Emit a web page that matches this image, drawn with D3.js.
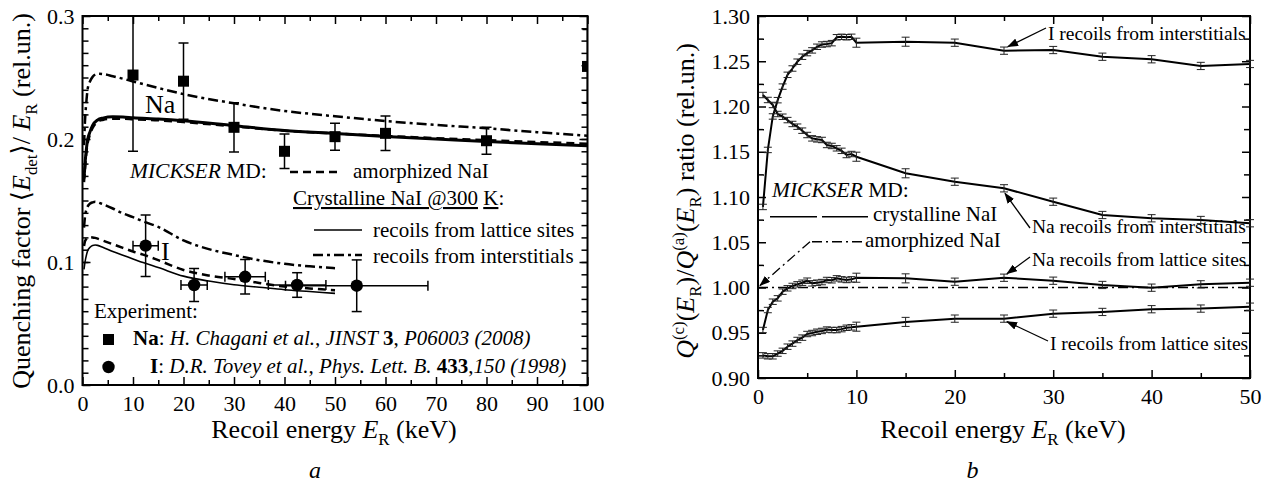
<!DOCTYPE html>
<html>
<head>
<meta charset="utf-8">
<script src="https://cdn.jsdelivr.net/npm/d3@7"></script>
<style>
body { margin: 0; background: #fff; }
svg text { font-family: "Liberation Serif", "Times New Roman", "DejaVu Serif", serif; fill: #000; }
</style>
</head>
<body>
<svg id="chart" width="1273" height="484"></svg>
<script>
// ---- panel a: quenching factor vs recoil energy ----
var naCurveX = [0.3,0.5,0.8,1,1.5,2,3,4,6,8,10,15,20,30,40,50,60,70,80,90,100]
var naLattice = [0.168,0.180,0.193,0.199,0.206,0.211,0.2155,0.217,0.218,0.2178,0.2172,0.2162,0.2148,0.2108,0.207,0.2045,0.202,0.200,0.198,0.1962,0.1946]
var naAmorph = [0.165,0.176,0.190,0.196,0.204,0.209,0.214,0.2155,0.2165,0.2165,0.216,0.2152,0.2138,0.2102,0.2068,0.2045,0.2025,0.2007,0.199,0.1975,0.1962]
var naInter = [0.195,0.215,0.232,0.240,0.247,0.2505,0.253,0.2528,0.251,0.249,0.2468,0.2415,0.2365,0.229,0.2228,0.2185,0.2146,0.2115,0.2087,0.2055,0.2027]

var iCurveX = [0.3,0.5,0.8,1,1.5,2,2.5,3,4,6,8,10,12,15,20,25,30,35,40,45,50]
var iLattice = [0.094,0.100,0.106,0.109,0.112,0.1135,0.1138,0.1135,0.112,0.1085,0.1055,0.1025,0.0995,0.0955,0.0885,0.0845,0.0815,0.0795,0.0775,0.076,0.0745]
var iAmorph = [0.113,0.117,0.119,0.1198,0.1202,0.120,0.1196,0.119,0.1175,0.1145,0.1115,0.1085,0.106,0.1015,0.0935,0.089,0.0862,0.083,0.080,0.0785,0.077]
var iInter = [0.128,0.137,0.143,0.145,0.1475,0.1485,0.149,0.1485,0.147,0.1435,0.1395,0.1365,0.133,0.1285,0.1175,0.1105,0.1057,0.1015,0.0985,0.0965,0.095]

// experiment
var naExpX = [10,20,30,40,50,60,80,100]
var naExpY = [0.252,0.247,0.2095,0.190,0.2019,0.2046,0.1986,0.259]
var naExpErr = [0.062,0.031,0.020,0.014,0.011,0.014,0.011,0.030]
var iExpX = [12.5,22.1,32.2,42.5,54.3]
var iExpY = [0.1133,0.0813,0.088,0.0813,0.0807]
var iExpErrY = [0.025,0.0135,0.014,0.010,0.021]
var iExpErrX = [2.5,2.6,4.0,5.7,14.1]

// ---- panel b: Q(c)/Q(a) ratio ----
var ratioX = [0.5,1,1.5,2,2.5,3,3.5,4,4.5,5,5.5,6,6.5,7,7.5,8,8.5,9,9.5,10,15,20,25,30,35,40,45,50]
var iInterRatio = [1.089,1.152,1.189,1.207,1.222,1.235,1.242,1.2495,1.255,1.259,1.262,1.266,1.2685,1.269,1.270,1.2765,1.277,1.2765,1.277,1.2705,1.2716,1.2705,1.2617,1.2624,1.255,1.2522,1.2448,1.247]
var naInterRatio = [1.2127,1.2072,1.2017,1.1917,1.1887,1.185,1.1807,1.1777,1.1733,1.1685,1.1648,1.1637,1.163,1.1575,1.1564,1.1538,1.151,1.1464,1.1475,1.1445,1.1262,1.1169,1.1096,1.0948,1.0801,1.0765,1.0746,1.071]
var naLatRatio = [0.953,0.9751,0.9843,0.988,0.9954,0.9991,1.0017,1.0035,1.0053,1.0075,1.0046,1.0053,1.006,1.0083,1.008,1.0101,1.009,1.0083,1.009,1.0108,1.0101,1.0064,1.0108,1.0075,1.0028,0.9998,1.0035,1.0053]
var iLatRatio = [0.925,0.924,0.924,0.927,0.930,0.9346,0.938,0.942,0.9446,0.9486,0.9497,0.9511,0.952,0.9535,0.953,0.953,0.954,0.9555,0.956,0.9567,0.962,0.9656,0.9656,0.9711,0.973,0.976,0.9767,0.9788]
var ratioErr = [0.003,0.003,0.003,0.003,0.003,0.003,0.003,0.003,0.003,0.003,0.003,0.003,0.003,0.003,0.003,0.003,0.003,0.003,0.003,0.005,0.005,0.004,0.004,0.004,0.004,0.004,0.004,0.004]
var amorphRefX = [0, 50]
var amorphRefY = [1.0, 1.0]

var aXTicks = [0,10,20,30,40,50,60,70,80,90,100]
var aXMinor = [5,15,25,35,45,55,65,75,85,95]
var aYTicks = [0,0.1,0.2,0.3]
var bXTicks = [0,10,20,30,40,50]
var bXMinor = [5,15,25,35,45]
var bYTicks = [0.90,0.95,1.00,1.05,1.10,1.15,1.20,1.25,1.30]
var bYMinor = [0.925,0.975,1.025,1.075,1.125,1.175,1.225,1.275]

var FF = '"Liberation Serif", "Times New Roman", serif'
var svg = d3.select("#chart")

svg.append("defs").append("marker")
  .attr("id", "arr")
  .attr("markerUnits", "userSpaceOnUse")
  .attr("markerWidth", 11).attr("markerHeight", 8)
  .attr("refX", 10).attr("refY", 4)
  .attr("orient", "auto")
  .append("path").attr("d", "M0,0 L11,4 L0,8 Z").attr("fill", "#000")

var xa = d3.scaleLinear().domain([0, 100]).range([82.5, 587.5])
var ya = d3.scaleLinear().domain([0, 0.3]).range([385, 16])
var xb = d3.scaleLinear().domain([0, 50]).range([758, 1250])
var yb = d3.scaleLinear().domain([0.9, 1.3]).range([378, 16])

function fixAxis(g) {
  g.attr("font-size", 22).attr("font-family", FF)
  g.select(".domain").remove()
  g.selectAll("line").attr("stroke", "#000").attr("stroke-width", 1.5)
}

function frame(x, y, xt, xm, yt, ym, xfmt, yfmt) {
  var x0 = x.range()[0], x1 = x.range()[1]
  var y0 = y.range()[0], y1 = y.range()[1]
  var g = svg.append("g")
  g.append("g").attr("transform", "translate(0," + y0 + ")")
    .call(d3.axisBottom(x).tickValues(xt).tickSize(-8).tickPadding(10).tickFormat(xfmt)).call(fixAxis)
  g.append("g").attr("transform", "translate(0," + y0 + ")")
    .call(d3.axisBottom(x).tickValues(xm).tickSize(-5).tickFormat("")).call(fixAxis)
  g.append("g").attr("transform", "translate(0," + y1 + ")")
    .call(d3.axisTop(x).tickValues(xt).tickSize(-8).tickFormat("")).call(fixAxis)
  g.append("g").attr("transform", "translate(0," + y1 + ")")
    .call(d3.axisTop(x).tickValues(xm).tickSize(-5).tickFormat("")).call(fixAxis)
  g.append("g").attr("transform", "translate(" + x0 + ",0)")
    .call(d3.axisLeft(y).tickValues(yt).tickSize(-8).tickPadding(8).tickFormat(yfmt)).call(fixAxis)
  g.append("g").attr("transform", "translate(" + x0 + ",0)")
    .call(d3.axisLeft(y).tickValues(ym).tickSize(-6).tickFormat("")).call(fixAxis)
  g.append("g").attr("transform", "translate(" + x1 + ",0)")
    .call(d3.axisRight(y).tickValues(yt).tickSize(-8).tickFormat("")).call(fixAxis)
  g.append("g").attr("transform", "translate(" + x1 + ",0)")
    .call(d3.axisRight(y).tickValues(ym).tickSize(-6).tickFormat("")).call(fixAxis)
  g.append("rect")
    .attr("x", x0).attr("y", y1).attr("width", x1 - x0).attr("height", y0 - y1)
    .attr("fill", "none").attr("stroke", "#000").attr("stroke-width", 2)
}

// text with italic / bold / underline / sub / sup pieces
function rich(sel, size, parts) {
  var cur = 0
  parts.forEach(function(p) {
    var st = p[1] || ""
    var fs = size, off = 0
    if (st.indexOf("_") > -1) { fs = size * 0.65; off = size * 0.28 }
    if (st.indexOf("^") > -1) { fs = size * 0.65; off = -size * 0.4 }
    var t = sel.append("tspan").text(p[0]).attr("font-size", fs)
    if (off != cur) t.attr("dy", off - cur)
    cur = off
    if (st.indexOf("i") > -1) t.attr("font-style", "italic")
    if (st.indexOf("b") > -1) t.attr("font-weight", "bold")
    if (st.indexOf("u") > -1) t.attr("text-decoration", "underline")
  })
  return sel
}

function label(x, y, size, parts, anchor) {
  var t = svg.append("text").attr("x", x).attr("y", y).attr("font-size", size)
    .attr("text-anchor", anchor || "start")
  return rich(t, size, parts)
}

// ================= panel a =================
frame(xa, ya, aXTicks, aXMinor, aYTicks, d3.range(0.01, 0.3, 0.01),
  d3.format("d"), d3.format(".1f"))

svg.append("clipPath").attr("id", "clipA").append("rect")
  .attr("x", 82.5).attr("y", 16).attr("width", 505).attr("height", 369)

var pa = svg.append("g").attr("clip-path", "url(#clipA)")

function curve(g, xs, ys, x, y, w, dash, kind) {
  var line = d3.line()
    .x(function(d) { return x(d[0]) })
    .y(function(d) { return y(d[1]) })
    .curve(kind || d3.curveMonotoneX)
  g.append("path")
    .attr("d", line(d3.zip(xs, ys)))
    .attr("fill", "none").attr("stroke", "#000")
    .attr("stroke-width", w)
    .attr("stroke-dasharray", dash)
}

var DASH = "8,5", DASHDOT = "10,4,3,4"
curve(pa, naCurveX, naAmorph, xa, ya, 2.5, DASH)
curve(pa, naCurveX, naLattice, xa, ya, 3, null)
curve(pa, naCurveX, naInter, xa, ya, 2.5, DASHDOT)
curve(pa, iCurveX, iAmorph, xa, ya, 2.5, DASH)
curve(pa, iCurveX, iLattice, xa, ya, 1.6, null)
curve(pa, iCurveX, iInter, xa, ya, 2.5, DASHDOT)

// Na points with y error bars
naExpX.forEach(function(v, i) {
  var cx = xa(v), cy = ya(naExpY[i])
  var t = ya(naExpY[i] + naExpErr[i]), b = ya(naExpY[i] - naExpErr[i])
  pa.append("line").attr("x1", cx).attr("x2", cx).attr("y1", t).attr("y2", b)
    .attr("stroke", "#000").attr("stroke-width", 1.5)
  pa.append("line").attr("x1", cx - 5).attr("x2", cx + 5).attr("y1", t).attr("y2", t)
    .attr("stroke", "#000").attr("stroke-width", 1.5)
  pa.append("line").attr("x1", cx - 5).attr("x2", cx + 5).attr("y1", b).attr("y2", b)
    .attr("stroke", "#000").attr("stroke-width", 1.5)
  pa.append("rect").attr("x", cx - 5.5).attr("y", cy - 5.5).attr("width", 11).attr("height", 11)
    .attr("fill", "#000")
})

// I points with x and y error bars
iExpX.forEach(function(v, i) {
  var cx = xa(v), cy = ya(iExpY[i])
  var t = ya(iExpY[i] + iExpErrY[i]), b = ya(iExpY[i] - iExpErrY[i])
  var l = xa(v - iExpErrX[i]), r = xa(v + iExpErrX[i])
  var segs = [[cx, t, cx, b], [cx - 5, t, cx + 5, t], [cx - 5, b, cx + 5, b],
    [l, cy, r, cy], [l, cy - 5, l, cy + 5], [r, cy - 5, r, cy + 5]]
  segs.forEach(function(s) {
    pa.append("line").attr("x1", s[0]).attr("y1", s[1]).attr("x2", s[2]).attr("y2", s[3])
      .attr("stroke", "#000").attr("stroke-width", 1.5)
  })
  pa.append("circle").attr("cx", cx).attr("cy", cy).attr("r", 6.2).attr("fill", "#000")
})

// panel a labels / legend
label(145, 113, 26, [["Na"]])
label(161, 260, 26, [["I"]])
label(130, 178, 21.5, [["MICKSER", "i"], [" MD:"]])
svg.append("line").attr("x1", 290).attr("x2", 342).attr("y1", 172).attr("y2", 172)
  .attr("stroke", "#000").attr("stroke-width", 2.5).attr("stroke-dasharray", DASH)
label(353, 178, 21, [["amorphized NaI"]])
label(293, 205, 21, [["Crystalline NaI @300", "u"], [" "], ["K", "u"], [":"]])
svg.append("line").attr("x1", 314).attr("x2", 362).attr("y1", 230).attr("y2", 230)
  .attr("stroke", "#000").attr("stroke-width", 1.6)
label(373, 237, 21, [["recoils from lattice sites"]])
svg.append("line").attr("x1", 313).attr("x2", 362).attr("y1", 255).attr("y2", 255)
  .attr("stroke", "#000").attr("stroke-width", 2.5).attr("stroke-dasharray", DASHDOT)
label(373, 263, 21, [["recoils from interstitials"]])

label(94, 318, 21, [["Experiment:"]])
svg.append("rect").attr("x", 103).attr("y", 334).attr("width", 11).attr("height", 11).attr("fill", "#000")
label(133, 345, 21, [["Na", "b"], [": "], ["H. Chagani et al., JINST ", "i"], ["3", "b"], [", "], ["P06003 (2008)", "i"]])
svg.append("circle").attr("cx", 108.5).attr("cy", 367).attr("r", 6.2).attr("fill", "#000")
label(150, 373, 21, [["I", "b"], [": "], ["D.R. Tovey et al., Phys. Lett. B. ", "i"], ["433", "b"], [","], ["150 (1998)", "i"]])

// axis titles a
var ta = svg.append("text").attr("transform", "translate(30,201) rotate(-90)")
  .attr("text-anchor", "middle").attr("font-size", 26)
rich(ta, 26, [["Quenching factor \u27e8"], ["E", "i"], ["det", "_"], ["\u27e9/ "], ["E", "i"], ["R", "_"], [" (rel.un.)"]])
label(334, 438, 26, [["Recoil energy "], ["E", "i"], ["R", "_"], [" (keV)"]], "middle")
label(315, 478, 24, [["a", "i"]], "middle")

// ================= panel b =================
frame(xb, yb, bXTicks, bXMinor, bYTicks, bYMinor, d3.format("d"), d3.format(".2f"))

var pb = svg.append("g")
curve(pb, amorphRefX, amorphRefY, xb, yb, 1.6, "10,4,2,4", d3.curveLinear)

var series = [iInterRatio, naInterRatio, naLatRatio, iLatRatio]
series.forEach(function(s) {
  curve(pb, ratioX, s, xb, yb, 2, null, d3.curveLinear)
  ratioX.forEach(function(v, i) {
    var cx = xb(v), t = yb(s[i] + ratioErr[i]), b = yb(s[i] - ratioErr[i])
    var segs = [[cx, t, cx, b], [cx - 4, t, cx + 4, t], [cx - 4, b, cx + 4, b]]
    segs.forEach(function(q) {
      pb.append("line").attr("x1", q[0]).attr("y1", q[1]).attr("x2", q[2]).attr("y2", q[3])
        .attr("stroke", "#222").attr("stroke-width", 1)
    })
  })
})

// annotations with arrows
function arrow(x1, y1, x2, y2, dash) {
  svg.append("line").attr("x1", x1).attr("y1", y1).attr("x2", x2).attr("y2", y2)
    .attr("stroke", "#000").attr("stroke-width", 1.3)
    .attr("stroke-dasharray", dash).attr("marker-end", "url(#arr)")
}
var k25 = ratioX.indexOf(25)
arrow(1046, 28, xb(25) + 4, yb(iInterRatio[k25]) - 4)
label(1048, 40, 19.5, [["I recoils from interstitials"]])
arrow(1030, 228, xb(25) + 1, yb(naInterRatio[k25]) + 5)
label(1032, 233, 19.5, [["Na recoils from interstitials"]])
arrow(1030, 257, xb(25) + 3, yb(naLatRatio[k25]) - 4)
label(1032, 266, 19.5, [["Na recoils from lattice sites"]])
arrow(1048, 341, xb(25) + 3, yb(iLatRatio[k25]) + 3)
label(1050, 350, 19.5, [["I recoils from lattice sites"]])

// legend b
label(772, 197, 21.5, [["MICKSER", "i"], [" MD:"]])
svg.append("line").attr("x1", 770).attr("x2", 868).attr("y1", 216.7).attr("y2", 216.7)
  .attr("stroke", "#000").attr("stroke-width", 1.6).attr("stroke-dasharray", "47,5")
label(873, 221, 21, [["crystalline NaI"]])
svg.append("path").attr("d", "M862,241.7 L810,241.7")
  .attr("fill", "none").attr("stroke", "#000").attr("stroke-width", 1.6).attr("stroke-dasharray", "10,4,2,4")
arrow(810, 241.7, xb(0) + 2, yb(1.0) - 2, "10,4,2,4")
label(865, 247, 21, [["amorphized NaI"]])

var tb = svg.append("text").attr("transform", "translate(694,201) rotate(-90)")
  .attr("text-anchor", "middle").attr("font-size", 26)
rich(tb, 26, [["Q", "i"], ["(c)", "^"], ["("], ["E", "i"], ["R", "_"], [")/"], ["Q", "i"], ["(a)", "^"], ["("], ["E", "i"], ["R", "_"], [") ratio (rel.un.)"]])
label(1003, 438, 26, [["Recoil energy "], ["E", "i"], ["R", "_"], [" (keV)"]], "middle")
label(972.5, 478, 24, [["b", "i"]], "middle")
</script>
</body>
</html>
